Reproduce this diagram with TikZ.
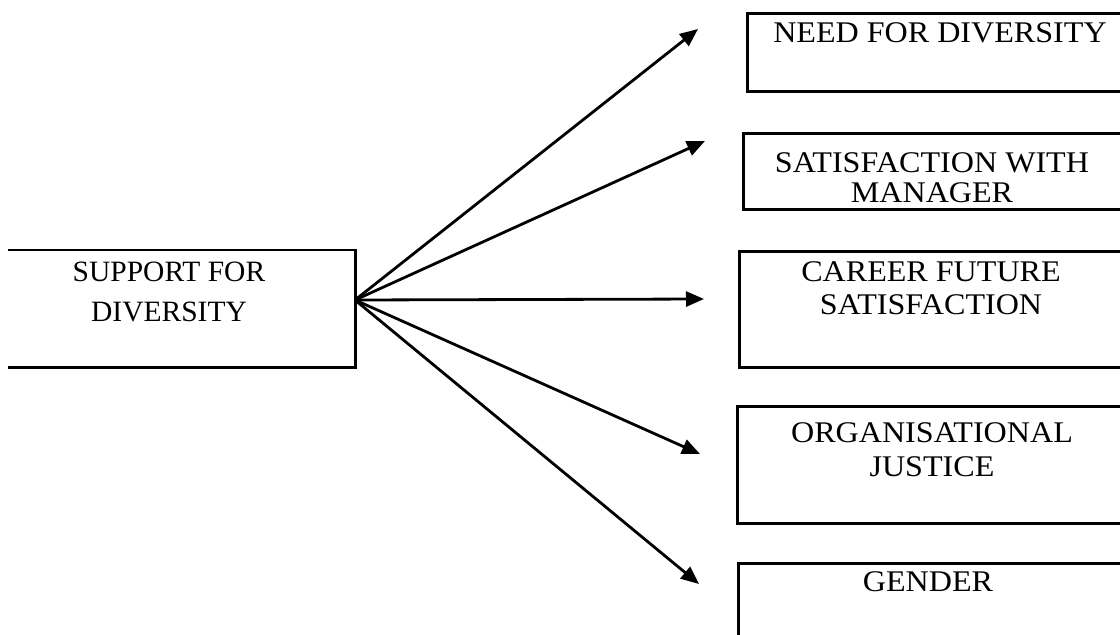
\documentclass[tikz,border=0pt]{standalone}
\usepackage{fontspec}
\setmainfont{Liberation Serif}
\newfontfamily\widefont[FakeStretch=1.07]{Liberation Serif}
\usetikzlibrary{arrows.meta}
\tikzset{
  boxline/.style={line width=2.5pt},
  lbl/.style={inner sep=0pt, align=center, anchor=north},
  conn/.style={line width=2.8pt, -{Triangle[length=18pt,width=15pt]}},
  frame/.style={draw, line width=2.5pt, anchor=north west, inner sep=0pt}
}
\begin{document}
\begin{tikzpicture}[x=1pt,y=-1pt]
\useasboundingbox (0,0) rectangle (1120,635);
\clip (0,0) rectangle (1120,635);
% left box (open on the left)
\node[inner sep=0pt, minimum width=347pt, minimum height=117pt, anchor=north west] (src) at (8,250) {};
\draw[boxline] (src.north west) -- (src.north east) -- (src.south east) -- (src.south west);
\node[lbl, font=\fontsize{29.5}{40}\selectfont] (srct) at (169,262) {SUPPORT FOR\\DIVERSITY};
\coordinate (hub) at (355,300);
% right boxes
\node[frame, minimum width=420pt, minimum height=78pt] (b1) at (746,12) {};
\node[lbl, font=\widefont\fontsize{30}{34}\selectfont] (l1) at (940,22) {NEED FOR DIVERSITY};
\node[frame, minimum width=420pt, minimum height=76pt] (b2) at (742,132) {};
\node[lbl, font=\widefont\fontsize{30}{30}\selectfont] (l2) at (932,152) {SATISFACTION WITH\\MANAGER};
\node[frame, minimum width=420pt, minimum height=116pt] (b3) at (738,250) {};
\node[lbl, font=\widefont\fontsize{30}{33}\selectfont] (l3) at (931,261) {CAREER FUTURE\\SATISFACTION};
\node[frame, minimum width=420pt, minimum height=117pt] (b4) at (736,405) {};
\node[lbl, font=\widefont\fontsize{30}{34}\selectfont] (l4) at (932,422) {ORGANISATIONAL\\JUSTICE};
\node[frame, minimum width=420pt, minimum height=120pt] (b5) at (737,562) {};
\node[lbl, font=\widefont\fontsize{30}{34}\selectfont] (l5) at (928,571) {GENDER};
% arrow tips
\coordinate (t1) at (698,29);
\coordinate (t2) at (705,141);
\coordinate (t3) at (704,299);
\coordinate (t4) at (700,454);
\coordinate (t5) at (699,584);
\foreach \t in {t1,t2,t3,t4,t5} \draw[conn] (hub) -- (\t);
\end{tikzpicture}
\end{document}
